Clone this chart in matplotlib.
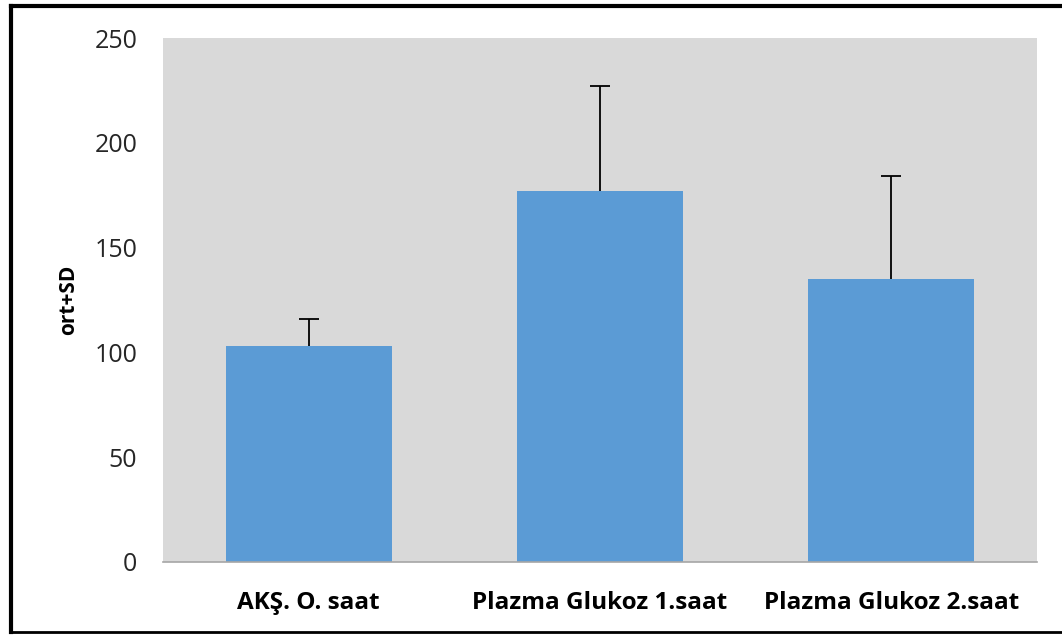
import numpy as np
import matplotlib.pyplot as plt
from matplotlib.lines import Line2D

# Veriler
categories = ['AKŞ. O. saat', 'Plazma Glukoz 1.saat', 'Plazma Glukoz 2.saat']
means = np.array([103, 177, 135])
sd = np.array([13, 50, 49])
yticks = [0, 50, 100, 150, 200, 250]

plt.rcParams['font.family'] = ['Open Sans', 'DejaVu Sans']

fig = plt.figure(figsize=(10.62, 6.35), dpi=100)
ax = fig.add_axes([0.1535, 0.115, 0.823, 0.825])
ax.set_facecolor('#D9D9D9')

x = np.arange(len(categories))
ax.bar(x, means, width=0.57, color='#5B9BD5', zorder=2)
# sadece üst hata çubuğu, alt uçta kapak yok
ax.errorbar(x, means, yerr=[np.zeros(len(sd)), sd], fmt='none', ecolor='black',
            elinewidth=1.3, capsize=0, zorder=3)
ax.plot(x, means + sd, ls='none', marker='_', markersize=14, mew=1.3,
        color='black', zorder=3)

ax.set_xlim(-0.5, 2.5)
ax.set_ylim(0, 250)
ax.set_yticks(yticks)
ax.set_xticks(x)
ax.set_xticklabels(categories, fontsize=17.5, fontweight='bold')
ax.tick_params(axis='y', labelsize=18, length=0, pad=18.5, colors='#262626')
ax.tick_params(axis='x', length=0, pad=21)
ax.set_ylabel('ort+SD', fontsize=15, fontweight='bold', labelpad=11)

for s in ['top', 'right', 'left']:
    ax.spines[s].set_visible(False)
ax.spines['bottom'].set_color('#A6A6A6')
ax.spines['bottom'].set_linewidth(1.2)

# Çerçeve
fig.add_artist(Line2D([0.0106, 0.0106], [0.004, 0.991], color='black', lw=3))
fig.add_artist(Line2D([0.0106, 1.0], [0.991, 0.991], color='black', lw=3))
fig.add_artist(Line2D([0.0106, 1.0], [0.005, 0.005], color='black', lw=2))

fig.savefig('out.png', dpi=100)
